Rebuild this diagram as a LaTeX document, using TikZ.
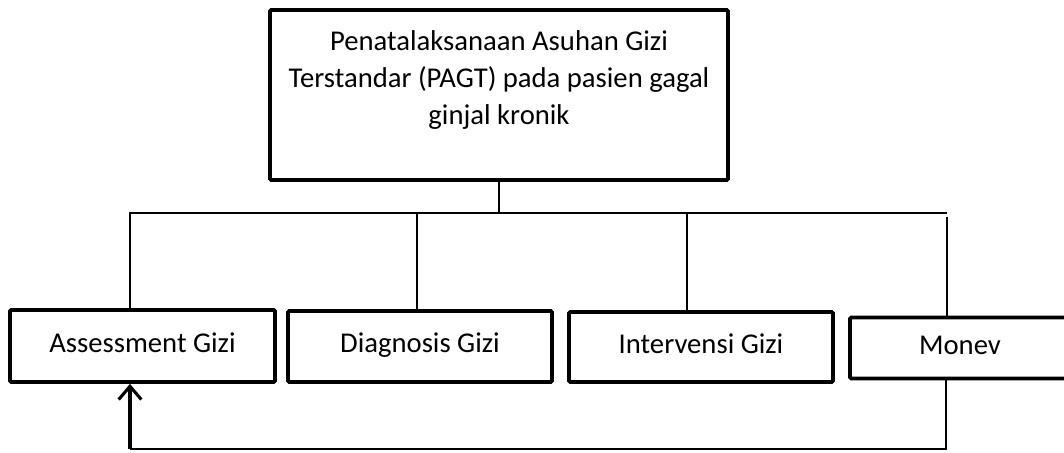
\documentclass[tikz,border=0pt]{standalone}
\usepackage{fontspec}
\setmainfont{Carlito}
\usetikzlibrary{arrows.meta}
\begin{document}
\begin{tikzpicture}[x=0.75pt,y=-0.75pt,
  lbl/.style={font=\fontsize{21.5}{28}\selectfont},
  box/.style={draw,line width=2.8pt,rounded corners=1pt,inner sep=0pt,lbl,text height=14pt,text depth=4.5pt},
  conn/.style={line width=2.2pt},
  arr/.style={line width=2.3pt,-{Straight Barb[length=10pt,width=17pt,line width=2.3pt]}}]
\useasboundingbox (0,0) rectangle (1064,453);
\clip (0,0) rectangle (1064,453);
% boxes
\node[draw,line width=2.8pt,rounded corners=1pt,inner sep=0pt,minimum width=458*0.75pt,minimum height=170*0.75pt] (top) at (499,95) {};
\node[lbl,align=center,anchor=center] (toptext) at (499,80)
  {Penatalaksanaan Asuhan Gizi\\Terstandar (PAGT) pada pasien gagal\\ginjal kronik};
\node[box,minimum width=265*0.75pt,minimum height=72*0.75pt] (asg) at (142.5,346) {Assessment Gizi};
\node[box,minimum width=264*0.75pt,minimum height=71*0.75pt] (dg) at (420,346.5) {Diagnosis Gizi};
\node[box,minimum width=264*0.75pt,minimum height=70*0.75pt] (ig) at (701,347) {Intervensi Gizi};
\node[box,minimum width=220*0.75pt,minimum height=61*0.75pt] (mon) at (960,348) {Monev};
% bus
\coordinate (busL) at (130,213);
\coordinate (busR) at (947,213);
\coordinate (bD) at (417,213);
\coordinate (bI) at (687,213);
\coordinate (mTop) at (947,217);
\coordinate (fbR) at (946,449);
\coordinate (fbL) at (130,449);
\draw[conn] (top.south) -- (top.south |- busL);
\draw[conn] (asg.north -| busL) -- (busL) -- (busR);
\draw[conn] (bD) -- (bD |- dg.north);
\draw[conn] (bI) -- (bI |- ig.north);
\draw[conn] (mTop) -- (mTop |- mon.north);
% feedback
\draw[conn] (fbR |- mon.south) -- (fbR) -- (fbL);
\draw[arr] (fbL) -- (fbL |- asg.south);
\end{tikzpicture}
\end{document}
